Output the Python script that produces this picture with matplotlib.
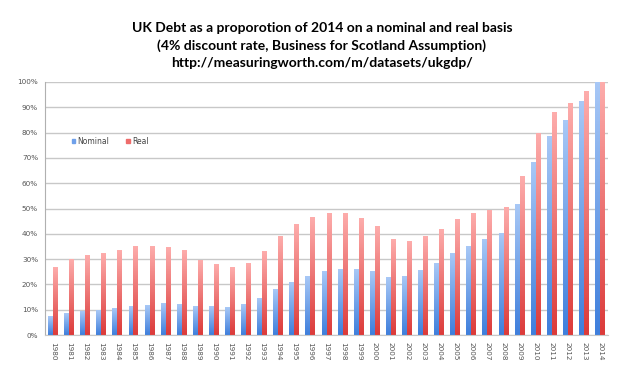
import numpy as np
import matplotlib
matplotlib.use("Agg")
import matplotlib.pyplot as plt
from matplotlib.colors import LinearSegmentedColormap
from matplotlib.patches import Patch

## Data (% of 2014 value)
years = list(range(1980, 2015))
nominal = [7.3, 8.4, 9.2, 9.8, 10.6, 11.4, 11.8, 12.3, 12.2, 11.1,
           11.1, 11.0, 12.0, 14.6, 18.0, 20.9, 23.1, 25.0, 25.8, 25.8,
           24.9, 22.8, 23.3, 25.4, 28.1, 32.1, 35.1, 37.7, 40.1, 51.7,
           68.1, 78.3, 84.6, 92.4, 100.0]
real = [26.7, 29.8, 31.5, 32.2, 33.3, 35.0, 34.8, 34.5, 33.2, 29.4,
        28.0, 26.7, 28.2, 32.9, 39.1, 43.5, 46.5, 48.2, 47.9, 45.9,
        42.7, 37.7, 37.0, 39.0, 41.6, 45.5, 47.9, 49.3, 50.4, 62.7,
        79.7, 88.1, 91.5, 96.1, 100.0]

title = ("UK Debt as a proporotion of 2014 on a nominal and real basis\n"
         "(4% discount rate, Business for Scotland Assumption)\n"
         "http://measuringworth.com/m/datasets/ukgdp/")

blue_cmap = LinearSegmentedColormap.from_list("blue", ["#3f7fdc", "#a8c8f6"])
red_cmap = LinearSegmentedColormap.from_list("red", ["#dc3b3a", "#fdacab"])
grad = np.linspace(0, 1, 64).reshape(-1, 1)

fig = plt.figure(figsize=(6.25, 3.71), dpi=100)
ax = fig.add_axes([0.072, 0.097, 0.901, 0.682])

x = np.arange(len(years))
w = 0.31
for xi, n, r in zip(x, nominal, real):
    ax.imshow(grad, extent=[xi - w, xi, 0, n], origin="lower", aspect="auto",
              cmap=blue_cmap, interpolation="bilinear", zorder=2)
    ax.imshow(grad, extent=[xi, xi + w, 0, r], origin="lower", aspect="auto",
              cmap=red_cmap, interpolation="bilinear", zorder=2)

ax.set_xlim(-0.5, len(years) - 0.5)
ax.set_ylim(0, 100)
ax.set_yticks(np.arange(0, 101, 10))
ax.set_yticklabels(["{}%".format(v) for v in range(0, 101, 10)])
ax.set_xticks(x)
ax.set_xticklabels([str(y) for y in years], rotation=270)
ax.tick_params(length=0, labelsize=5.2, colors="#555555", pad=5)
ax.yaxis.grid(True, color="#c8c8c8", linewidth=1.0, zorder=0)
ax.set_axisbelow(True)
for s in ["top", "right"]:
    ax.spines[s].set_visible(False)
ax.spines["left"].set_color("#b0b0b0")
ax.spines["bottom"].set_color("#c8c8c8")

handles = [Patch(color="#6fa0ea", label="Nominal"),
           Patch(color="#ee6c6b", label="Real")]
ax.legend(handles=handles, loc="upper left", bbox_to_anchor=(0.035, 0.81),
          ncol=2, frameon=False, fontsize=5.5, handlelength=0.5,
          handleheight=0.5, handletextpad=0.3, columnspacing=2.2,
          labelcolor="#444444")

fig.text(0.515, 0.94, title, ha="center", va="top", fontsize=10,
         fontweight="bold", family="Lato", linespacing=1.5)

fig.savefig("out.png", dpi=100)
